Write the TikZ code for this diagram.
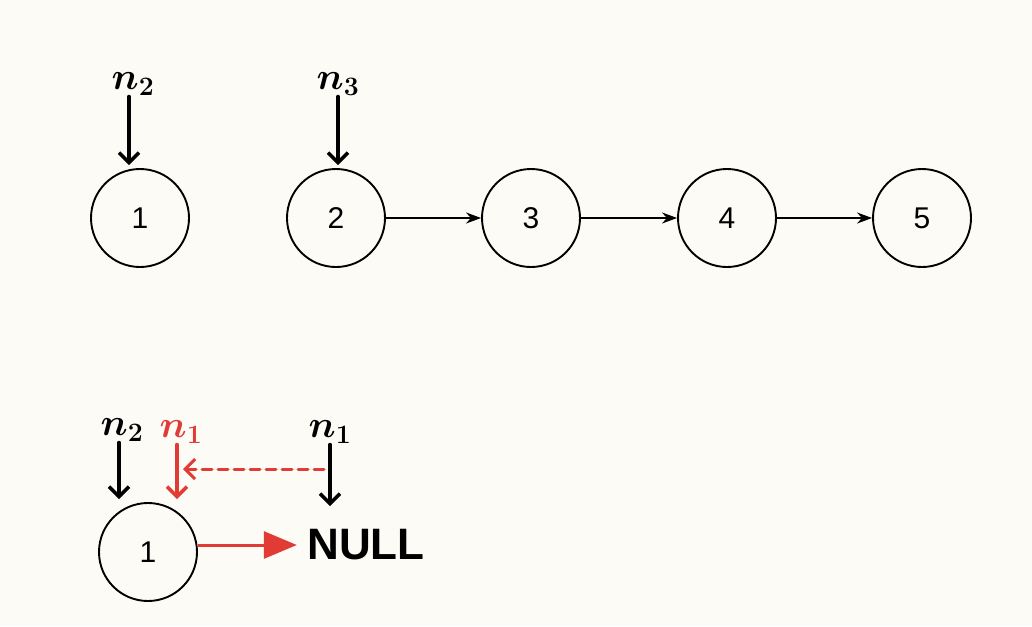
\documentclass[tikz,border=0pt]{standalone}
\usepackage{fix-cm}
\usepackage{fontspec}
\setmainfont{Liberation Sans}
\usetikzlibrary{arrows.meta}
\definecolor{paper}{HTML}{FCFBF6}
\definecolor{penred}{HTML}{E23B36}

\begin{document}
\begin{tikzpicture}[x=1pt, y=-1pt,
    listnode/.style={draw, circle, line width=1.9pt, minimum size=98pt, inner sep=0pt, font=\fontsize{30}{32}\selectfont},
    nextarrow/.style={-{Stealth[length=15pt, width=11pt]}, line width=1.6pt},
    pointer/.style={font=\boldmath\fontsize{38}{42}\selectfont, inner sep=1pt},
    penarrow/.style={-{Straight Barb[length=10pt, width=20pt]}, line width=3.5pt, line cap=round}]

            \fill[paper] (0,0) rectangle (1032,626);

            % first list
            \node[listnode] (c1) at (140,218) {1};
            \node[listnode] (c2) at (336,218) {2};
            \node[listnode] (c3) at (531,218) {3};
            \node[listnode] (c4) at (727,218) {4};
            \node[listnode] (c5) at (922,218) {5};

            \draw[nextarrow] (c2) -- (c3);
            \draw[nextarrow] (c3) -- (c4);
            \draw[nextarrow] (c4) -- (c5);

            \node[pointer] (p2) at (133,84) {$n_2$};
            \node[pointer] (p3) at (338,84) {$n_3$};
            \draw[penarrow, shorten >=3pt] ([xshift=-4pt]p2.south) -- ([xshift=-4pt]p2.south |- c1.north);
            \draw[penarrow, shorten >=3pt] (p3.south) -- (p3.south |- c2.north);

            % second list
            \node[listnode] (b1) at (148,552) {1};
            \node[font=\bfseries\fontsize{44}{48}\selectfont] (null) at (366,545) {NULL};
            \draw[-{Triangle[length=33pt, width=27pt]}, penred, line width=3pt] (b1.east |- null) -- ([xshift=-7pt]null.west);

            \node[pointer] (q2) at (122,430) {$n_2$};
            \node[pointer, text=penred] (r1) at (181,432) {$n_1$};
            \node[pointer] (m1) at (330,432) {$n_1$};
            \draw[penarrow, shorten >=3pt] ([xshift=-3pt]q2.south) -- ([xshift=-3pt]q2.south |- b1.north);
            \draw[penarrow, penred, shorten >=3pt] ([xshift=-4pt]r1.south) -- ([xshift=-4pt]r1.south |- b1.north);
            \draw[penarrow, shorten >=20pt] (m1.south) -- (m1.south |- null.north);

            \coordinate (from) at (324,469);
            \coordinate (to) at (183,469);
            \draw[penarrow, penred, dash pattern=on 10pt off 6pt, line width=3pt] (from) -- (to);

          \end{tikzpicture}
\end{document}
